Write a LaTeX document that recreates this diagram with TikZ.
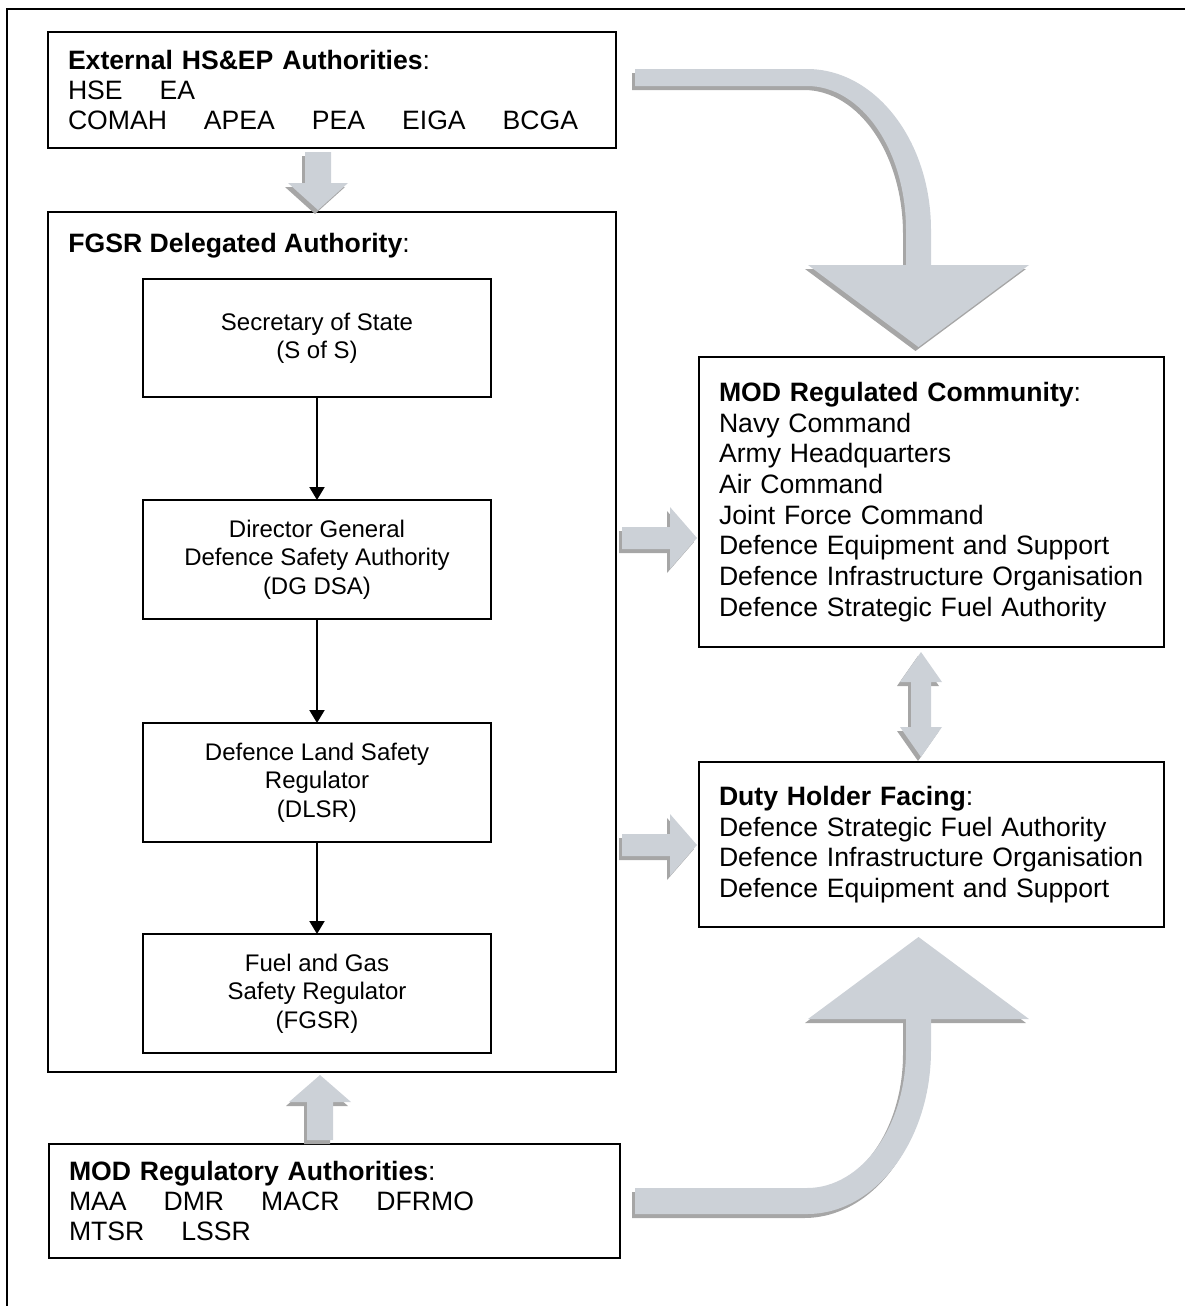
\documentclass[tikz,border=0pt]{standalone}
\usepackage{fontspec}
\setmainfont{Liberation Sans}
\usetikzlibrary{arrows.meta}
\definecolor{arrfill}{RGB}{204,209,215}
\definecolor{arrshade}{RGB}{166,166,166}
\newcommand{\shadedarrow}[1]{%
  \fill[arrshade, shift={(-3,4)}] #1;
  \fill[arrfill] #1;}
\newcommand{\oneln}[1]{\mbox{#1}}
\begin{document}
\begin{tikzpicture}[x=0.5pt,y=-0.5pt,
  box/.style={draw, line width=1pt, inner sep=0pt, outer sep=0pt, anchor=north west},
  lbox/.style={box, align=left, inner xsep=10pt, font=\fontsize{13.3}{15.35}\selectfont},
  cbox/.style={box, align=center, font=\fontsize{12}{14.15}\selectfont},
  conn/.style={line width=1pt, -{Triangle[width=7.5pt,length=6.5pt]}},
  frame/.style={line width=1pt}]
\useasboundingbox (0,0) rectangle (1185,1306);
% outer frame
\draw[frame] (7,1306) -- (7,9) -- (1185,9);

% boxes
\node[lbox, minimum width=284pt, minimum height=58pt, text width=264pt,
      font=\fontsize{13.3}{15}\selectfont] (ext) at (48,32)
  {\oneln{\textbf{External HS\&EP Authorities}:}\\
   \oneln{HSE\hspace{1.39em}EA}\\
   \oneln{COMAH\hspace{1.39em}APEA\hspace{1.39em}PEA\hspace{1.39em}EIGA\hspace{1.39em}BCGA}};

\node[box, minimum width=284pt, minimum height=430pt] (fgsrout) at (48,212) {};
\node[anchor=base west, inner sep=0pt, font=\fontsize{13.3}{15.35}\selectfont] (fgsrtitle) at (68,252)
  {\textbf{FGSR Delegated Authority}:};

\node[cbox, minimum width=174pt, minimum height=59pt] (sos) at (143,279)
  {Secretary of State\\(S of S)};
\node[cbox, minimum width=174pt, minimum height=59.5pt] (dg) at (143,500)
  {Director General\\Defence Safety Authority\\(DG DSA)};
\node[cbox, minimum width=174pt, minimum height=59.5pt] (dlsr) at (143,723)
  {Defence Land Safety\\Regulator\\(DLSR)};
\node[cbox, minimum width=174pt, minimum height=59.5pt] (fgsr) at (143,934)
  {Fuel and Gas\\Safety Regulator\\(FGSR)};

\node[lbox, minimum width=232.5pt, minimum height=145pt, text width=212.5pt] (modc) at (699,357)
  {\oneln{\textbf{MOD Regulated Community}:}\\
   \oneln{Navy Command}\\
   \oneln{Army Headquarters}\\
   \oneln{Air Command}\\
   \oneln{Joint Force Command}\\
   \oneln{Defence Equipment and Support}\\
   \oneln{Defence Infrastructure Organisation}\\
   \oneln{Defence Strategic Fuel Authority}};

\node[lbox, minimum width=232.5pt, minimum height=82.5pt, text width=212.5pt] (duty) at (699,762)
  {\oneln{\textbf{Duty Holder Facing}:}\\
   \oneln{Defence Strategic Fuel Authority}\\
   \oneln{Defence Infrastructure Organisation}\\
   \oneln{Defence Equipment and Support}};

\node[lbox, minimum width=285.5pt, minimum height=57pt, text width=265.5pt,
      font=\fontsize{13.3}{15}\selectfont] (modr) at (49,1144)
  {\oneln{\textbf{MOD Regulatory Authorities}:}\\
   \oneln{MAA\hspace{1.39em}DMR\hspace{1.39em}MACR\hspace{1.39em}DFRMO}\\
   \oneln{MTSR\hspace{1.39em}LSSR}};

% thin connectors
\draw[conn] (sos.south) -- (dg.north);
\draw[conn] (dg.south) -- (dlsr.north);
\draw[conn] (dlsr.south) -- (fgsr.north);

% block arrows
% down: external -> FGSR delegated
\shadedarrow{(305,152) -- (331,152) -- (331,183) -- (348,183) -- (318,210) -- (288,183) -- (305,183) -- cycle}
% up: MOD regulatory -> FGSR delegated
\shadedarrow{(307,1140) -- (333,1140) -- (333,1102) -- (351,1102) -- (320,1075) -- (289,1102) -- (307,1102) -- cycle}
% right arrows
\shadedarrow{(622,527) -- (670,527) -- (670,507) -- (697,538) -- (670,569) -- (670,549) -- (622,549) -- cycle}
\shadedarrow{(622,834) -- (670,834) -- (670,814) -- (697,845) -- (670,876) -- (670,856) -- (622,856) -- cycle}
% double arrow
\shadedarrow{(921,652) -- (942,682) -- (931,682) -- (931,727) -- (942,727) -- (921,757) -- (900,727) -- (911,727) -- (911,682) -- (900,682) -- cycle}
% top curved arrow
\shadedarrow{(635,69) -- (807,69) .. controls (875.5,69) and (931,141) .. (931,230) -- (931,265) -- (1029,265) -- (918.5,347) -- (808,265) -- (906,265) -- (906,230) .. controls (906,150.5) and (861.7,86) .. (807,86) -- (635,86) -- cycle}
% bottom curved arrow
\shadedarrow{(635,1214) -- (807,1214) .. controls (875.5,1214) and (931,1140.6) .. (931,1050) -- (931,1019) -- (1029,1019) -- (918.5,937) -- (808,1019) -- (906,1019) -- (906,1050) .. controls (906,1126.2) and (861.7,1188) .. (807,1188) -- (635,1188) -- cycle}
\end{tikzpicture}
\end{document}
